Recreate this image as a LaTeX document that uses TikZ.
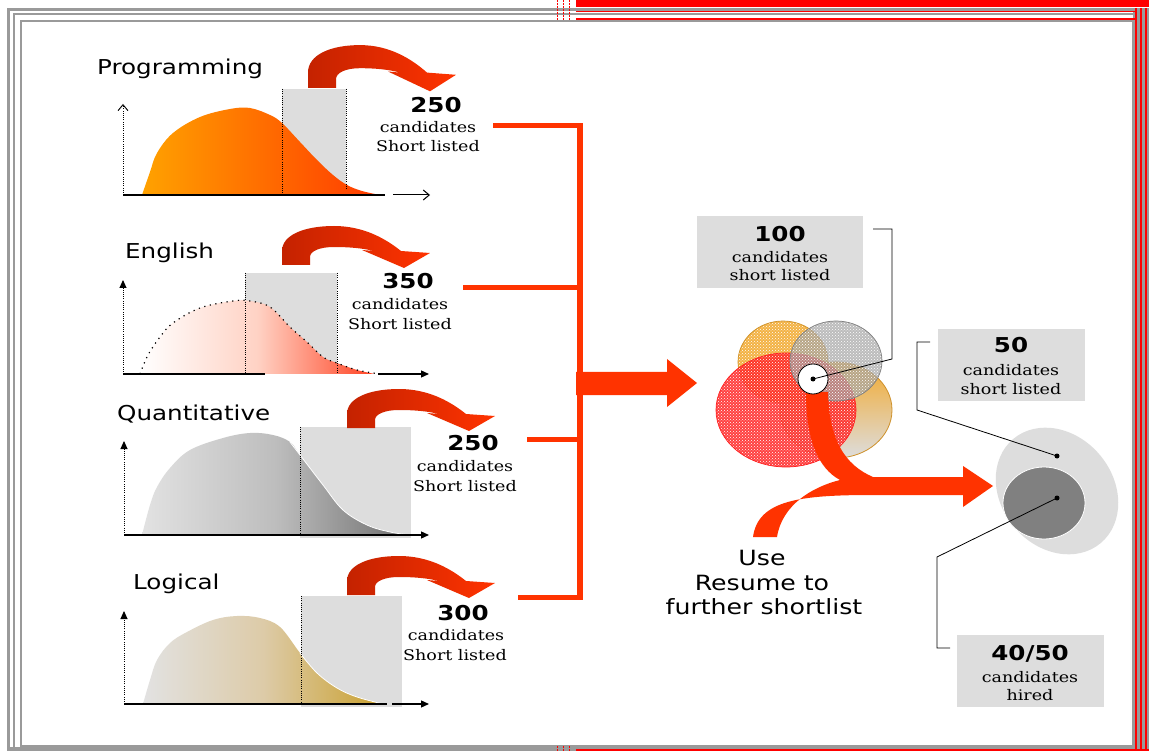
\documentclass[tikz,border=0pt]{standalone}
\usepackage{fontspec}
\usetikzlibrary{arrows.meta,patterns}
\newfontfamily\titlef[FakeStretch=1.2]{DejaVu Sans}
\newfontfamily\monof[FakeStretch=1.2]{DejaVu Serif}
\definecolor{framegray}{HTML}{9A9A9A}
\definecolor{framered}{HTML}{FF0000}
\definecolor{boxgray}{HTML}{DDDDDD}
\definecolor{arrred}{HTML}{FF3300}
\definecolor{arrdark}{HTML}{C42200}
\definecolor{pgA}{HTML}{FFA200}
\definecolor{pgB}{HTML}{FF3A00}
\definecolor{enM}{HTML}{FFD2C4}
\definecolor{enB}{HTML}{FF4020}
\definecolor{qtA}{HTML}{E2E2E2}
\definecolor{qtM}{HTML}{BDBDBD}
\definecolor{qtB}{HTML}{6E6E6E}
\definecolor{lgA}{HTML}{E2E2E2}
\definecolor{lgM}{HTML}{DDCBA8}
\definecolor{lgB}{HTML}{C9A02E}
\definecolor{circO}{HTML}{F2AA30}
\definecolor{circG}{HTML}{A0A0A0}
\definecolor{circR}{HTML}{FF2020}
\definecolor{darkdisc}{HTML}{808080}
\tikzset{
 titletxt/.style={font=\titlef\fontsize{20.5}{24}\selectfont, anchor=base west, inner sep=0pt},
 numtxt/.style={font=\titlef\bfseries\fontsize{20.5}{24}\selectfont, anchor=base, inner sep=0pt},
 monotxt/.style={font=\monof\fontsize{14.6}{16}\selectfont, anchor=base, inner sep=0pt},
 usetxt/.style={font=\titlef\fontsize{21}{24}\selectfont, anchor=base, inner sep=0pt},
 graybox/.style={fill=boxgray, draw=none, inner sep=0pt},
 dotaxis/.style={black, dash pattern=on 0.8pt off 1.4pt, line width=0.9pt},
 dotcurve/.style={black, dash pattern=on 1.2pt off 4.5pt, line width=1.2pt},
 axisln/.style={black, line width=1.3pt},
 filltip/.style={-{Triangle[length=8pt,width=7pt]}},
 opentip/.style={-{Straight Barb[length=6pt,width=10pt]}},
 dotn/.style={circle, fill=black, inner sep=0pt, minimum size=5pt},
 brk/.style={black, line width=0.8pt},
 redln/.style={arrred, line width=5pt},
 curvarrow/.pic={
  \shade[left color=arrdark, right color=arrred]
   (0,0) -- (0,-14) .. controls (0,-30) and (22,-39) .. (52,-39)
   .. controls (82,-39) and (104,-26) .. (119,-14)
   -- (148,-12) -- (122,3) -- (80,-15) -- (92,-14)
   .. controls (80,-17) and (66,-18) .. (52,-18)
   .. controls (38,-18) and (28,-14) .. (28,-8) -- (28,0) -- cycle;
 }
}
\begin{document}
\begin{tikzpicture}[x=1pt,y=-1pt]
\useasboundingbox (0,0) rectangle (1149,751);
\fill[white] (0,0) rectangle (1149,751);
% ---------------- frame
\fill[framered] (576,0) rectangle (1149,7.5);
\fill[framegray] (1133,8) rectangle (1149,751);
\foreach \xx in {1136,1141.2,1146.2} \draw[framered, line width=1.6pt] (\xx,8) -- (\xx,751);
\draw[framegray, line width=3pt] (8.5,751) -- (8.5,9.5) -- (1133,9.5);
\draw[framegray, line width=2pt] (13.5,751) -- (13.5,14) -- (1133,14);
\draw[framegray, line width=2pt] (20.5,21.5) rectangle (1133,745.5);
\fill[framegray] (7,747) rectangle (1133,751);
\draw[framered, line width=1.5pt] (576,11.3) -- (1136,11.3);
\draw[framered, line width=1.2pt] (576,19) -- (1136,19);
\draw[framered, line width=1.5pt] (576,750) -- (1149,750);
\foreach \xx in {557,563,569} {
  \draw[framered, line width=0.6pt, dash pattern=on 2pt off 1pt] (\xx,0) -- (\xx,21);
  \draw[framered, line width=0.6pt, dash pattern=on 2pt off 1pt] (\xx,746) -- (\xx,751);
}
% ---------------- Programming
\node[titletxt] (t1) at (97,75) {Programming};
\fill[boxgray] (282,89) rectangle (346,195);
\shade[left color=pgA, right color=pgB] plot[smooth, tension=0.6] coordinates {(142,195) (150,172) (157,153) (173,133) (200,117) (230,109) (250,108) (270,115) (282,123) (300,142) (317,160) (333,175) (347,185) (362,191) (380,195)} -- cycle;
\draw[dotaxis] (282,89) -- (282,195);
\draw[dotaxis] (346,89) -- (346,190);
\draw[dotaxis, opentip] (123,195) -- (123,104);
\draw[axisln] (123,195) -- (385,195);
\draw[black, line width=1pt, opentip] (393,195) -- (430,195);
\pic[yscale=1.1] at (308,88) {curvarrow};
\node[numtxt] (n1) at (436,113) {250};
\node[monotxt] (c1) at (428,133) {candidates};
\node[monotxt] (s1) at (428,152) {Short listed};
% ---------------- English
\node[titletxt] (t2) at (125,259) {English};
\fill[boxgray] (245,273) rectangle (337,374);
\shade[left color=white, right color=enB, middle color=enM] plot[smooth, tension=0.6] coordinates {(140,374) (148,355) (160,337) (173,323) (200,308) (233,301) (250,301) (270,307) (290,327) (307,342) (323,357) (337,363) (357,370) (375,374)} -- cycle;
\draw[dotcurve] plot[smooth, tension=0.6] coordinates {(140,374) (148,355) (160,337) (173,323) (200,308) (233,301) (250,301) (270,307) (290,327) (307,342) (323,357) (337,363) (357,370) (380,374)};
\draw[dotaxis] (245,273) -- (245,374);
\draw[dotaxis] (337,273) -- (337,374);
\draw[dotaxis, filltip] (123,374) -- (123,280);
\draw[axisln] (123,374) -- (265,374);
\draw[axisln, filltip] (378,374) -- (429,374);
\pic at (282,265) {curvarrow};
\node[numtxt] (n2) at (408,289) {350};
\node[monotxt] (c2) at (400,310) {candidates};
\node[monotxt] (s2) at (400,330) {Short listed};
% ---------------- Quantitative
\node[titletxt] (t3) at (117,420) {Quantitative};
\fill[boxgray] (300,427) rectangle (411,538);
\shade[left color=qtA, right color=qtB, middle color=qtM] plot[smooth, tension=0.6] coordinates {(142,535) (150,505) (157,487) (170,468) (190,450) (223,438) (250,433) (273,435) (290,442) (300,455) (323,485) (343,510) (367,525) (390,532) (410,535)} -- cycle;
\draw[white, line width=0.8pt] plot[smooth, tension=0.6] coordinates {(290,442) (300,455) (323,485) (343,510) (367,525) (390,532) (410,535)};
\draw[dotaxis] (300,427) -- (300,535);
\draw[dotaxis, filltip] (124,535) -- (124,441);
\draw[axisln, filltip] (124,535) -- (429,535);
\pic at (347,428) {curvarrow};
\node[numtxt] (n3) at (473,450) {250};
\node[monotxt] (c3) at (465,471) {candidates};
\node[monotxt] (s3) at (465,491) {Short listed};
% ---------------- Logical
\node[titletxt] (t4) at (133,589) {Logical};
\fill[boxgray] (301,596) rectangle (402,707);
\shade[left color=lgA, right color=lgB, middle color=lgM] plot[smooth, tension=0.6] coordinates {(143,704) (150,680) (157,660) (170,643) (187,632) (213,620) (237,616) (260,618) (280,627) (300,653) (317,673) (337,688) (357,697) (383,704)} -- cycle;
\draw[white, line width=0.8pt] plot[smooth, tension=0.6] coordinates {(300,653) (317,673) (337,688) (357,697) (383,704)};
\draw[dotaxis] (301,596) -- (301,704);
\draw[dotaxis, filltip] (124,704) -- (124,611);
\draw[axisln] (124,704) -- (387,704);
\draw[axisln, filltip] (392,704) -- (429,704);
\pic at (347,595) {curvarrow};
\node[numtxt] (n4) at (463,620) {300};
\node[monotxt] (c4) at (456,640) {candidates};
\node[monotxt] (s4) at (455,660) {Short listed};
% ---------------- red collectors
\coordinate (r1) at (493,126);
\coordinate (r2) at (463,288);
\coordinate (r3) at (527,439);
\coordinate (r4) at (518,597);
\draw[redln] (r1) -- (582,126);
\draw[redln] (r2) -- (582,288);
\draw[redln] (r3) -- (582,439);
\draw[redln] (r4) -- (582,597);
\draw[arrred, line width=6pt] (579.5,123.5) -- (579.5,599.5);
\fill[arrred] (576,372) -- (667,372) -- (667,359) -- (697,383) -- (667,407) -- (667,395) -- (576,395) -- cycle;
% ---------------- circles
\shade[top color=circO, bottom color=boxgray, draw=circO!85!black, line width=0.8pt] (836,410) ellipse [x radius=56, y radius=48];
\fill[circO, fill opacity=0.9] (783,362) ellipse [x radius=45, y radius=41];
\fill[pattern=crosshatch dots, pattern color=white] (783,362) ellipse [x radius=45, y radius=41];
\draw[circO!85!black, line width=0.7pt] (783,362) ellipse [x radius=45, y radius=41];
\fill[circR, fill opacity=0.85] (786,410) ellipse [x radius=70, y radius=57];
\fill[pattern=crosshatch dots, pattern color=white] (786,410) ellipse [x radius=70, y radius=57];
\draw[circR, line width=0.7pt] (786,410) ellipse [x radius=70, y radius=57];
\fill[circG, fill opacity=0.7] (836,361) ellipse [x radius=46, y radius=40];
\fill[pattern=crosshatch dots, pattern color=white] (836,361) ellipse [x radius=46, y radius=40];
\draw[gray, line width=0.7pt] (836,361) ellipse [x radius=46, y radius=40];
% merging arrow
\fill[arrred] (806,392) .. controls (806,440) and (818,468) .. (840,480)
  .. controls (812,487) and (782,505) .. (777,537) -- (753,537)
  .. controls (758,500) and (800,495) .. (873,495) -- (963,495) -- (963,507)
  -- (993,486) -- (963,466) -- (963,477) -- (873,477)
  .. controls (845,465) and (829,440) .. (828,392) -- cycle;
\filldraw[fill=white, draw=black, line width=0.8pt] (813,379) circle [radius=15];
\node[dotn] (d100) at (813,379) {};
% ---------------- final ellipse
\fill[boxgray, rotate around={-50:(1057,491)}] (1057,491) ellipse [x radius=68, y radius=56];
\filldraw[fill=darkdisc, draw=white, line width=0.8pt] (1044,503) ellipse [x radius=41, y radius=36];
\node[dotn] (d50) at (1057,456) {};
\node[dotn] (d40) at (1057,498) {};
% ---------------- boxes
\node[graybox, minimum width=166pt, minimum height=72pt] (b100) at (780,252) {};
\node[numtxt] (b100n) at (780,242) {100};
\node[monotxt] (b100c) at (780,263) {candidates};
\node[monotxt] (b100s) at (780,281) {short listed};
\node[graybox, minimum width=147pt, minimum height=72pt] (b50) at (1011.5,365) {};
\node[numtxt] (b50n) at (1011,353) {50};
\node[monotxt] (b50c) at (1011,376) {candidates};
\node[monotxt] (b50s) at (1011,394) {short listed};
\node[graybox, minimum width=147pt, minimum height=72pt] (b40) at (1030.5,671) {};
\node[numtxt] (b40n) at (1030,660) {40/50};
\node[monotxt] (b40c) at (1030,682) {candidates};
\node[monotxt] (b40h) at (1030,700) {hired};
% brackets
\coordinate (k1) at (873,229);
\coordinate (k2) at (930,342);
\coordinate (k3) at (950,648);
\draw[brk] (k1) -- (892,229) -- (892,359) -- (d100.center);
\draw[brk] (k2) -- (917,342) -- (917,410) -- (d50.center);
\draw[brk] (d40.center) -- (937,557) -- (937,648) -- (k3);
% ---------------- use resume
\node[usetxt] (u1) at (762,565) {Use};
\node[usetxt] (u2) at (762,590) {Resume to};
\node[usetxt] (u3) at (764,614) {further shortlist};
\end{tikzpicture}
\end{document}
